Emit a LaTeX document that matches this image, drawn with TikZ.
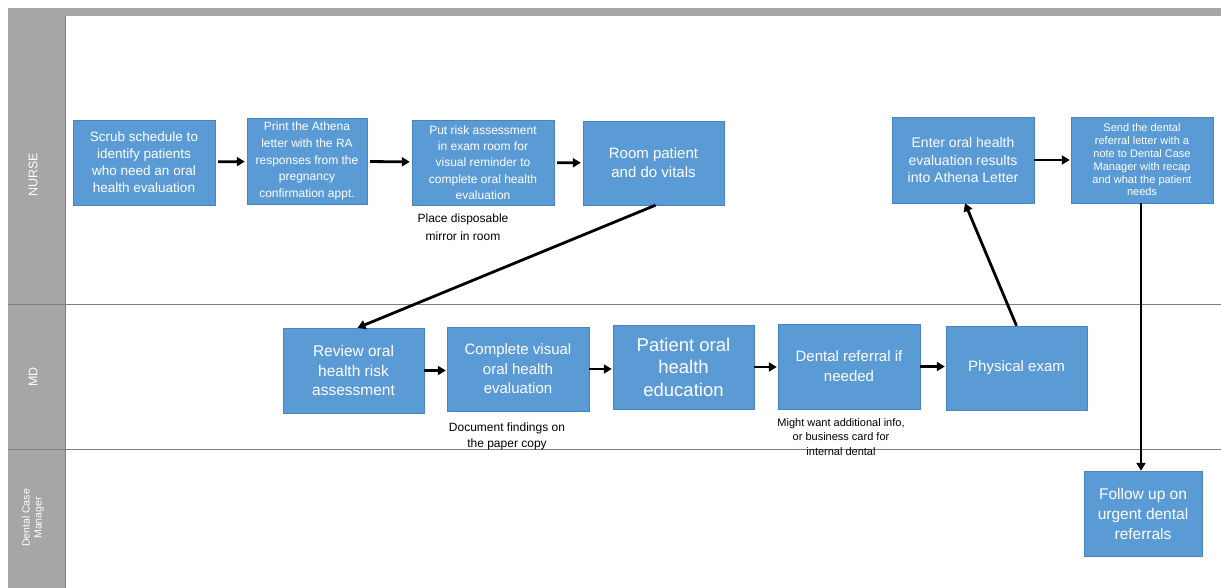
\documentclass[tikz,border=0pt]{standalone}
\usepackage{fontspec}
\setmainfont{Liberation Sans}
\usetikzlibrary{arrows.meta}
\definecolor{boxblue}{HTML}{5B9BD5}
\definecolor{boxedge}{HTML}{4A84BE}
\definecolor{lanegray}{HTML}{A6A6A6}
\definecolor{laneline}{HTML}{7F7F7F}
\def\fs#1#2{\fontsize{#1}{#2}\selectfont}
\tikzset{
  stepbox/.style={draw=boxedge, fill=boxblue, text=white, align=center,
    inner sep=1pt, minimum width=142, minimum height=85},
  note/.style={align=center, text=black},
  flow/.style={-{Triangle[length=8,width=9]}, line width=2.8},
  lanelabel/.style={text=white, rotate=90, align=center}
}
\begin{document}
\begin{tikzpicture}[x=1pt, y=-1pt]
  \useasboundingbox (0,0) rectangle (1221,588);
  % swimlanes
  \fill[lanegray] (8,8) rectangle (1221,16);
  \fill[lanegray] (8,16) rectangle (65,588);
  \draw[laneline, line width=0.8] (8,304) -- (1221,304);
  \draw[laneline, line width=0.8] (8,449) -- (1221,449);
  \draw[laneline, line width=0.6] (65,16) -- (65,588);
  \node[lanelabel, font=\fs{12.5}{15}] (nurse) at (33,175) {NURSE};
  \node[lanelabel, font=\fs{12.5}{15}] (md) at (33,377) {MD};
  \node[lanelabel, font=\fs{10.5}{12}] (dcm) at (33,518) {Dental Case\\Manager};

  % nurse
  \node[stepbox, font=\fs{13.5}{17}] (scrub) at (144,162.5)
    {Scrub schedule to\\identify patients\\who need an oral\\health evaluation};
  \node[stepbox, minimum width=120, minimum height=86, font=\fs{12}{16.8}] (print) at (307,161)
    {Print the Athena\\letter with the RA\\responses from the\\pregnancy\\confirmation appt.};
  \node[stepbox, font=\fs{12}{16.3}] (riskroom) at (483,162.5)
    {Put risk assessment\\in exam room for\\visual reminder to\\complete oral health\\evaluation};
  \node[stepbox, minimum width=141, minimum height=84, font=\fs{15}{19}] (vitals) at (653.5,163)
    {Room patient\\and do vitals};
  \node[stepbox, minimum height=86, font=\fs{14}{17.5}] (enter) at (963,160)
    {Enter oral health\\evaluation results\\into Athena Letter};
  \node[stepbox, minimum height=86, font=\fs{11}{12.8}] (send) at (1142,160)
    {Send the dental\\referral letter with a\\note to Dental Case\\Manager with recap\\and what the patient\\needs};

  % md
  \node[stepbox, minimum width=141, font=\fs{15.5}{19.5}] (review) at (353.5,370.5)
    {Review oral\\health risk\\assessment};
  \node[stepbox, minimum height=84, font=\fs{15}{19.5}] (visual) at (518,369)
    {Complete visual\\oral health\\evaluation};
  \node[stepbox, minimum width=141, minimum height=84, font=\fs{18.5}{22.5}] (educ) at (683.5,367)
    {Patient oral\\health\\education};
  \node[stepbox, font=\fs{15}{20}] (referral) at (849,366.5)
    {Dental referral if\\needed};
  \node[stepbox, minimum width=141, minimum height=84, font=\fs{15}{19}] (exam) at (1016.5,368)
    {Physical exam};

  % dental case manager
  \node[stepbox, minimum width=118, font=\fs{15.5}{20}] (followup) at (1143,513.5)
    {Follow up on\\urgent dental\\referrals};

  % notes
  \node[note, font=\fs{12}{17.5}] (mirror) at (463,227) {Place disposable\\mirror in room};
  \node[note, font=\fs{12}{16}] (findings) at (507,436) {Document findings on\\the paper copy};
  \node[note, font=\fs{11}{14.5}] (extra) at (841,437)
    {Might want additional info,\\or business card for\\internal dental};

  % connectors
  \draw[flow, shorten <=3, shorten >=2] (scrub) -- (print);
  \draw[flow, shorten <=3, shorten >=2] (print) -- (riskroom);
  \draw[flow, shorten <=3, shorten >=2] (riskroom) -- (vitals);
  \draw[flow] ([xshift=2]vitals.south) -- ([xshift=4]review.north);
  \draw[flow, shorten >=1] (review.east) -- (review.east -| visual.west);
  \draw[flow, shorten >=1] (visual.east) -- (visual.east -| educ.west);
  \draw[flow, shorten >=1] (educ.east) -- (educ.east -| referral.west);
  \draw[flow, shorten >=1] (referral.east) -- (referral.east -| exam.west);
  \draw[flow] (exam.north) -- ([xshift=2]enter.south);
  \draw[flow, shorten >=1] (enter) -- (send);
  \draw[flow] ([xshift=-1]send.south) -- ([xshift=-2]followup.north);
\end{tikzpicture}
\end{document}
